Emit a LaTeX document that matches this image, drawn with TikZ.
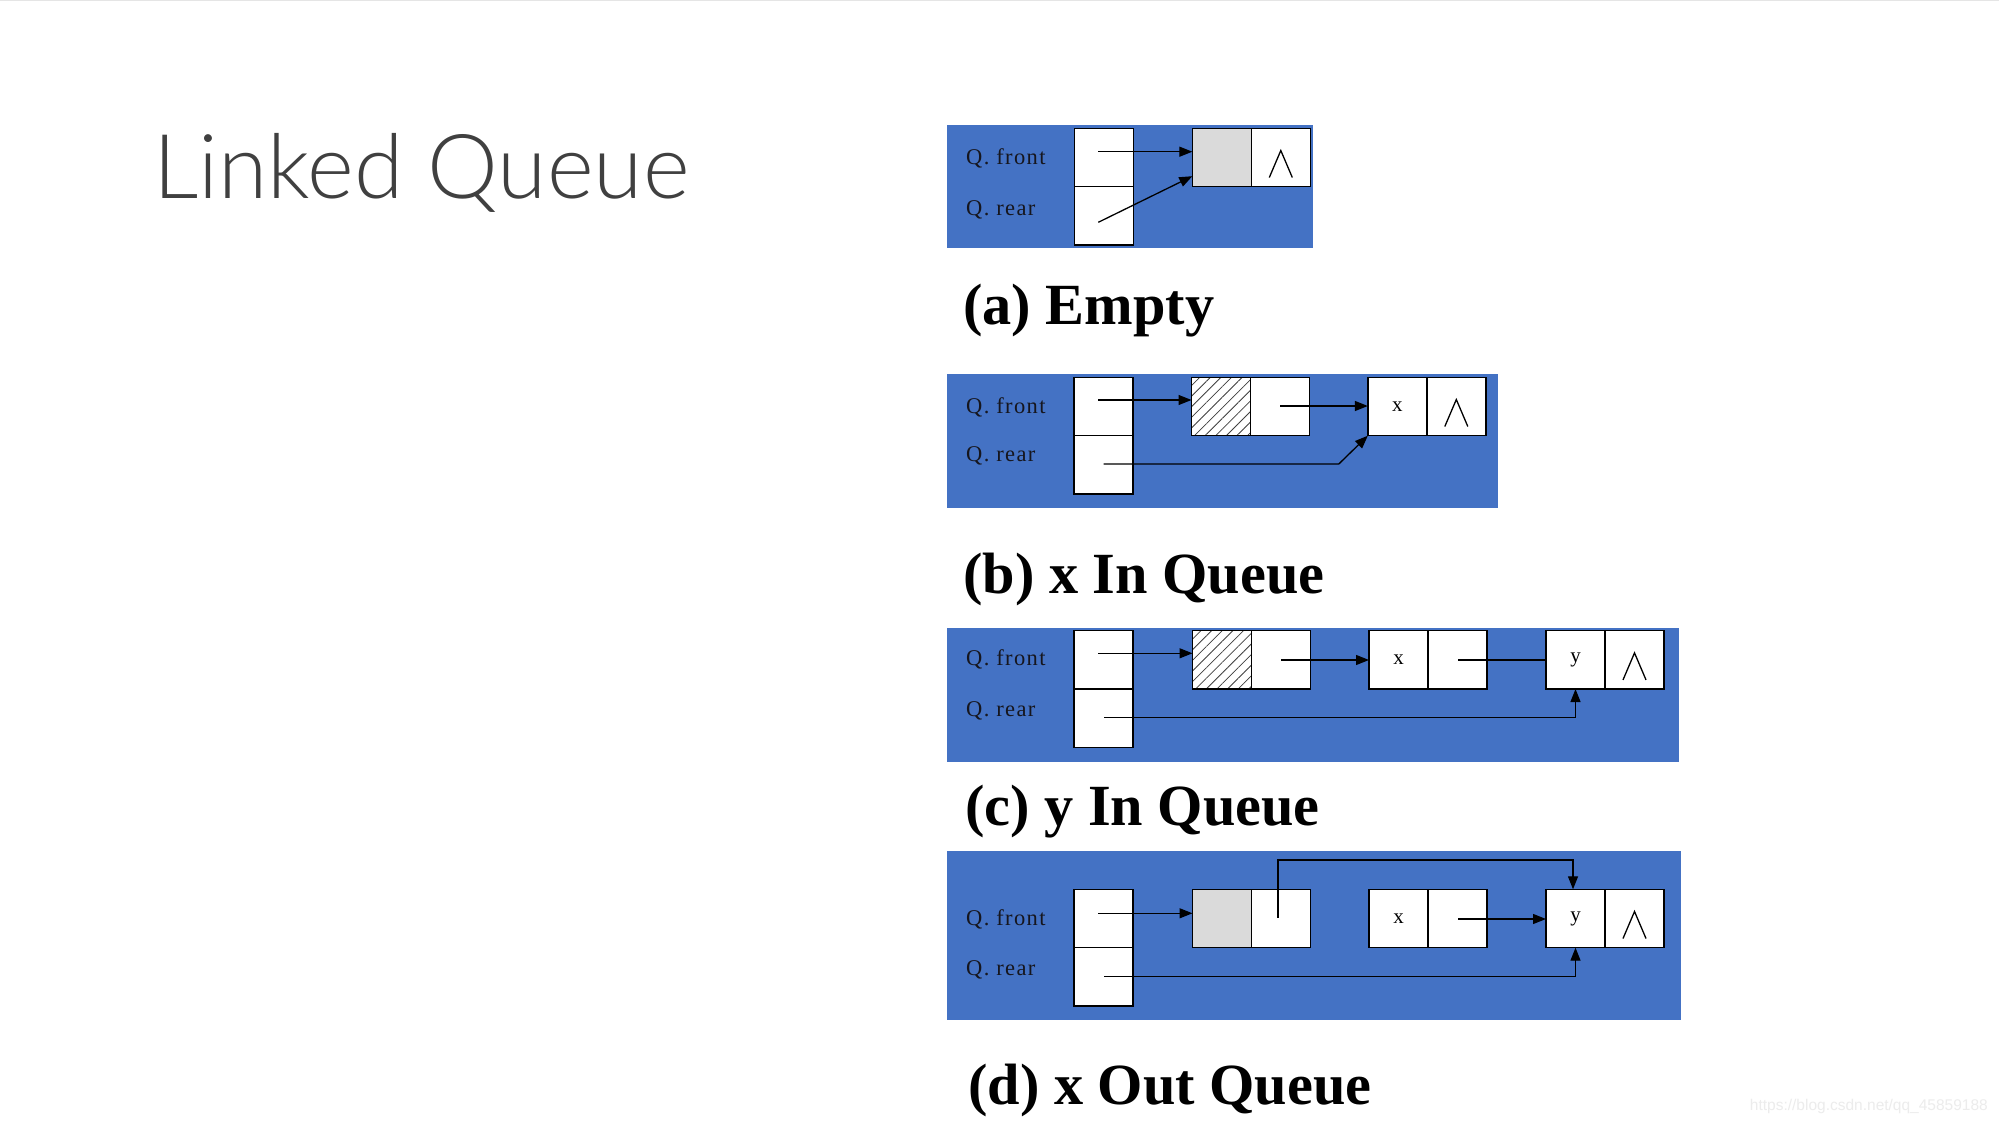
\documentclass[tikz,border=0pt]{standalone}
\usepackage{fontspec}
\setmainfont{Liberation Serif}
\newfontfamily\titlefont{Lato}[UprightFont={* Light}]
\newfontfamily\lblfont{Liberation Serif}[LetterSpace=6]
\newfontfamily\wmfont{Liberation Sans}
\usetikzlibrary{arrows.meta,patterns.meta,calc}
\definecolor{panelblue}{RGB}{68,114,196}
\definecolor{titlegray}{RGB}{64,64,64}
\definecolor{shadegray}{RGB}{218,218,218}
\definecolor{lbltext}{RGB}{22,22,30}
\definecolor{wmgray}{RGB}{236,236,236}
\tikzset{
  panel/.style={fill=panelblue, draw=none},
  cell/.style={draw=black, line width=1.5pt, fill=white, anchor=north west,
    minimum width=59pt, minimum height=58.4pt, inner sep=0pt, outer sep=0pt,
    font=\fontsize{21}{21}\selectfont},
  shaded/.style={cell, fill=shadegray},
  hatched/.style={cell, preaction={fill=white}, pattern={Lines[angle=45,distance=7.5pt,line width=0.8pt]}, pattern color=black!75},
  lbl/.style={anchor=base west, inner sep=0pt, text=lbltext, font=\lblfont\fontsize{22.5}{22.5}\selectfont},
  captxt/.style={anchor=base west, inner sep=0pt, font=\bfseries\fontsize{58.3}{58.3}\selectfont},
  arr/.style={line width=1.3pt, -{Triangle[length=13pt,width=10pt]}},
  ln/.style={line width=1.3pt},
  pics/nil/.style={code={\draw[line width=1.3pt, line join=miter] (-11.5,17) -- (0,-10) -- (11.5,17);}}
}
\begin{document}
\begin{tikzpicture}[x=1pt,y=-1pt]
\useasboundingbox (0,0) rectangle (1999,1121);
\fill[white] (0,0) rectangle (1999,1121);
\draw[black!10, line width=1.5pt] (0,0.75) -- (1999,0.75);

% title
\node[anchor=base west, inner sep=0pt, text=titlegray, font=\titlefont\fontsize{89.5}{89.5}\selectfont] (title) at (153,198.3) {Linked Queue};

% ---------- (a) ----------
\fill[panel] (947,125) rectangle (1313,248.3);
\node[lbl] (a-lf) at (966,164.3) {Q. front};
\node[lbl] (a-lr) at (966,215) {Q. rear};
\node[cell] (a-front) at (1074.3,128.3) {};
\node[cell] (a-rear) at (1074.3,186.7) {};
\node[shaded] (a-d1) at (1192.3,128.3) {};
\node[cell] (a-n1) at (1251.3,128.3) {};
\pic at ([yshift=-3pt]a-n1.center) {nil};
\coordinate (a-fs) at (1098.3,151.7);
\coordinate (a-rs) at (1098.3,222.3);
\draw[arr] (a-fs) -- (a-fs -| a-d1.west);
\draw[arr] (a-rs) -- ([yshift=10.5pt]a-d1.south west);
\node[captxt] (a-cap) at (963,324) {(a) Empty};

% ---------- (b) ----------
\fill[panel] (947,374.3) rectangle (1498,507.7);
\node[lbl] (b-lf) at (966,413.3) {Q. front};
\node[lbl] (b-lr) at (966,461.7) {Q. rear};
\node[cell] (b-front) at (1074,377.3) {};
\node[cell] (b-rear) at (1074,435.7) {};
\node[hatched] (b-d1) at (1191.5,377.3) {};
\node[cell] (b-n1) at (1250.5,377.3) {};
\node[cell] (b-xd) at (1367.8,377.3) {x};
\node[cell] (b-xn) at (1426.8,377.3) {};
\pic at ([yshift=-3pt]b-xn.center) {nil};
\coordinate (b-fs) at (1098,400);
\coordinate (b-ns) at (1280,406);
\coordinate (b-rs) at (1103.6,464);
\coordinate (b-rk) at (1338.8,464);
\draw[arr] (b-fs) -- (b-fs -| b-d1.west);
\draw[arr] (b-ns) -- (b-ns -| b-xd.west);
\draw[arr] (b-rs) -- (b-rk) -- (b-xd.south west);
\node[captxt] (b-cap) at (963,593.3) {(b) x In Queue};

% ---------- (c) ----------
\fill[panel] (947,628.3) rectangle (1679,761.7);
\node[lbl] (c-lf) at (966,665.7) {Q. front};
\node[lbl] (c-lr) at (966,716) {Q. rear};
\node[cell] (c-front) at (1074,630.7) {};
\node[cell] (c-rear) at (1074,689.1) {};
\node[hatched] (c-d1) at (1192.5,630.7) {};
\node[cell] (c-n1) at (1251.5,630.7) {};
\node[cell] (c-xd) at (1369,630.7) {x};
\node[cell] (c-xn) at (1428,630.7) {};
\node[cell] (c-yd) at (1546,630.7) {y};
\node[cell] (c-yn) at (1605,630.7) {};
\pic at ([yshift=-3pt]c-yn.center) {nil};
\coordinate (c-fs) at (1098,653.3);
\coordinate (c-ns) at (1281,660);
\coordinate (c-xs) at (1458,660);
\coordinate (c-rs) at (1104,717.7);
\draw[arr] (c-fs) -- (c-fs -| c-d1.west);
\draw[arr] (c-ns) -- (c-ns -| c-xd.west);
\draw[ln] (c-xs) -- (c-xs -| c-yd.west);
\draw[arr] (c-rs) -| (c-yd.south);
\node[captxt] (c-cap) at (965,825) {(c) y In Queue};

% ---------- (d) ----------
\fill[panel] (947,851) rectangle (1681,1020);
\node[lbl] (d-lf) at (966,925) {Q. front};
\node[lbl] (d-lr) at (966,975) {Q. rear};
\node[cell] (d-front) at (1074,889.3) {};
\node[cell] (d-rear) at (1074,947.7) {};
\node[shaded] (d-d1) at (1192.5,889.3) {};
\node[cell] (d-n1) at (1251.5,889.3) {};
\node[cell] (d-xd) at (1369,889.3) {x};
\node[cell] (d-xn) at (1428,889.3) {};
\node[cell] (d-yd) at (1546,889.3) {y};
\node[cell] (d-yn) at (1605,889.3) {};
\pic at ([yshift=-3pt]d-yn.center) {nil};
\coordinate (d-fs) at (1098,913.3);
\coordinate (d-ns) at (1278,917.7);
\coordinate (d-top) at (1278,860);
\coordinate (d-xs) at (1458,919);
\coordinate (d-rs) at (1104,976.7);
\draw[arr] (d-fs) -- (d-fs -| d-d1.west);
\draw[arr] (d-ns) -- (d-top) -| ([xshift=-2.5pt]d-yd.north);
\draw[arr] (d-xs) -- (d-xs -| d-yd.west);
\draw[arr] (d-rs) -| (d-yd.south);
\node[captxt] (d-cap) at (968,1104.3) {(d) x Out Queue};

% watermark
\node[anchor=base east, inner sep=0pt, text=wmgray, font=\wmfont\fontsize{15.5}{15.5}\selectfont] (wm) at (1988,1110) {https://blog.csdn.net/qq\_45859188};
\end{tikzpicture}
\end{document}
